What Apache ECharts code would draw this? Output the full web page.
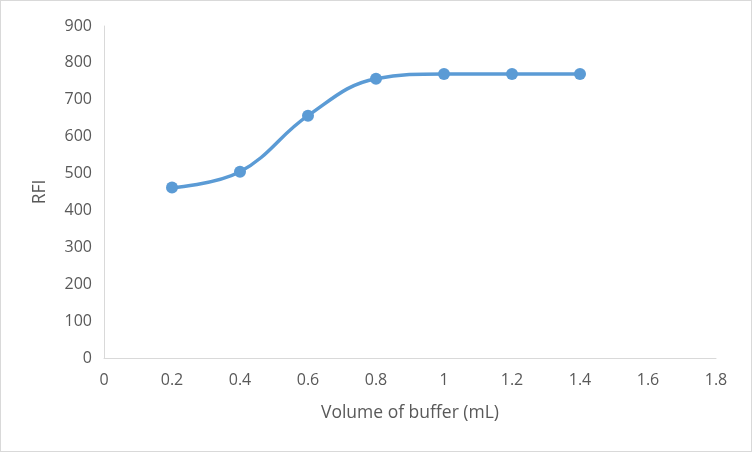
<!DOCTYPE html>
<html>
<head>
<meta charset="utf-8">
<script src="https://cdn.jsdelivr.net/npm/echarts@6/dist/echarts.min.js"></script>
<style>
  html, body { margin: 0; padding: 0; background: #fff; }
  #chart { width: 752px; height: 452px; box-sizing: border-box; border: 1px solid #d9d9d9; }
</style>
</head>
<body>
<div id="chart"></div>
<script>
  // buffer volume (mL) vs RFI
  const volume = [0.2, 0.4, 0.6, 0.8, 1.0, 1.2, 1.4];
  const rfi = [462, 505, 657, 757, 770, 770, 770];

  const FONT = "'Open Sans', sans-serif";
  const chart = echarts.init(document.getElementById("chart"), null, { renderer: "canvas" });
  chart.setOption({
    animation: false,
    grid: { left: 103, right: 35, top: 25, bottom: 93 },
    xAxis: {
      type: "value", min: 0, max: 1.8, interval: 0.2,
      name: "Volume of buffer (mL)", nameLocation: "middle", nameGap: 46,
      nameTextStyle: { color: "#595959", fontSize: 17.5, fontFamily: FONT },
      axisLine: { show: true, lineStyle: { color: "#d9d9d9", width: 1 } },
      axisTick: { show: false },
      splitLine: { show: false },
      axisLabel: { color: "#595959", fontSize: 16, fontFamily: FONT, margin: 14,
        formatter: (v) => String(Math.round(v * 10) / 10) },
    },
    yAxis: {
      type: "value", min: 0, max: 900, interval: 100,
      name: "RFI", nameLocation: "middle", nameGap: 55, nameRotate: 90,
      nameTextStyle: { color: "#595959", fontSize: 17.5, fontFamily: FONT },
      axisLine: { show: true, lineStyle: { color: "#d9d9d9", width: 1 } },
      axisTick: { show: false },
      splitLine: { show: false },
      axisLabel: { color: "#595959", fontSize: 16, fontFamily: FONT, margin: 12 },
    },
    series: [{
      type: "line",
      data: volume.map((x, i) => [x, rfi[i]]),
      smooth: 0.4,
      symbol: "circle", symbolSize: 12,
      lineStyle: { color: "#5B9BD5", width: 3.5 },
      itemStyle: { color: "#5B9BD5" },
    }],
  });
</script>
</body>
</html>
